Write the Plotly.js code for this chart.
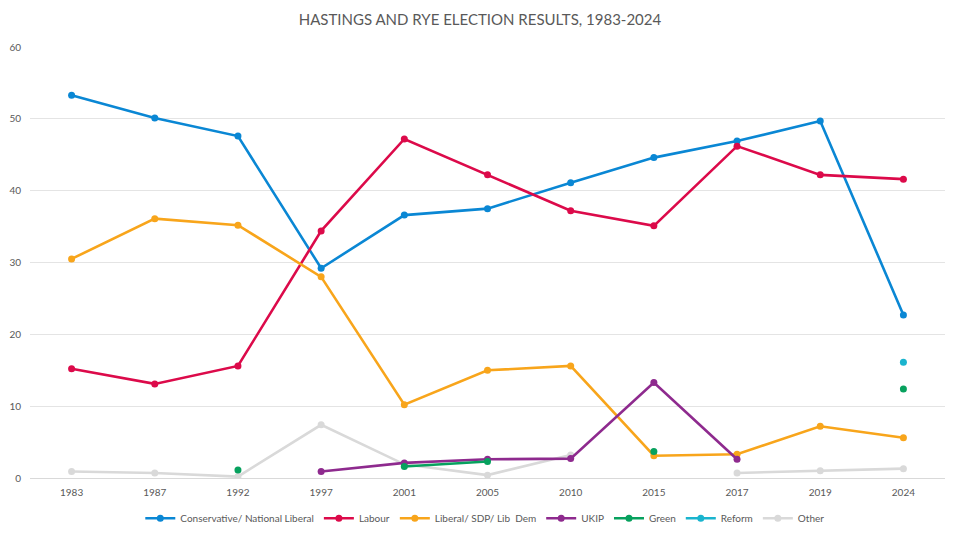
<!DOCTYPE html>
<html>
<head>
<meta charset="utf-8">
<script src="https://cdn.plot.ly/plotly-3.0.1.min.js"></script>
<style>
  html, body { margin: 0; padding: 0; background: #fff; }
  #chart { width: 960px; height: 537px; }
</style>
</head>
<body>
<div id="chart"></div>
<script>
// election years (categories on the x axis)
let years = ['1983', '1987', '1992', '1997', '2001', '2005', '2010', '2015', '2017', '2019', '2024'];

// vote share, % (null = did not stand)
let conservative = [53.3, 50.1, 47.6, 29.2, 36.6, 37.5, 41.1, 44.6, 46.9, 49.7, 22.7];
let labour       = [15.2, 13.1, 15.6, 34.4, 47.2, 42.2, 37.2, 35.1, 46.2, 42.2, 41.6];
let libdem       = [30.5, 36.1, 35.2, 28.0, 10.2, 15.0, 15.6, 3.1, 3.3, 7.2, 5.6];
let ukip         = [null, null, null, 0.9, 2.1, 2.6, 2.7, 13.3, 2.6, null, null];
let green        = [null, null, 1.1, null, 1.6, 2.3, null, 3.7, null, null, 12.4];
let reform       = [null, null, null, null, null, null, null, null, null, null, 16.1];
let other        = [0.9, 0.7, 0.2, 7.4, 1.9, 0.4, 3.2, null, 0.7, 1.0, 1.3];

let seriesNames = ['Conservative/ National Liberal', 'Labour', 'Liberal/ SDP/ Lib  Dem', 'UKIP', 'Green', 'Reform', 'Other'];
let seriesValues = [conservative, labour, libdem, ukip, green, reform, other];
let seriesColors = ['#0A87D4', '#DC0A4A', '#F8A51B', '#8E2A8E', '#07A15E', '#1AB4CE', '#D9D9D9'];

// draw order: Other at the back like the original
let order = [6, 0, 1, 2, 3, 4, 5];
let traces = order.map(function(i){
    return {
        x: years,
        y: seriesValues[i],
        name: seriesNames[i],
        type: 'scatter',
        mode: 'lines+markers',
        line: {color: seriesColors[i], width: 2.6},
        marker: {color: seriesColors[i], size: 7},
        legendrank: i + 1,
    };
});

let layout = {
    width: 960,
    height: 537,
    paper_bgcolor: '#fff',
    plot_bgcolor: '#fff',
    font: {family: 'Lato, "Liberation Sans", sans-serif', color: '#595959', size: 11},
    title: {
        text: 'HASTINGS AND RYE ELECTION RESULTS, 1983-2024',
        font: {size: 15, color: '#595959'},
        x: 0.5, xanchor: 'center', y: 0.963, yanchor: 'middle',
    },
    margin: {l: 30, r: 15, t: 47, b: 59, autoexpand: false},
    xaxis: {
        type: 'category',
        range: [-0.5, 10.5],
        showgrid: false,
        zeroline: false,
        showline: true,
        linecolor: '#D9D9D9',
        ticks: '',
        ticklabelstandoff: 5,
        tickfont: {size: 10, color: '#595959'},
    },
    yaxis: {
        range: [0, 60],
        dtick: 10,
        gridcolor: '#E4E4E4',
        zeroline: false,
        ticks: '',
        ticklabelstandoff: 8,
        tickfont: {size: 10, color: '#595959'},
    },
    showlegend: true,
    legend: {
        orientation: 'h',
        x: 0.505, xanchor: 'center',
        xref: 'container', yref: 'container',
        y: 0.035, yanchor: 'middle',
        font: {size: 10, color: '#595959'},
        itemwidth: 30,
        traceorder: 'normal',
    },
};

Plotly.newPlot('chart', traces, layout, {displayModeBar: false, staticPlot: true});
</script>
</body>
</html>
